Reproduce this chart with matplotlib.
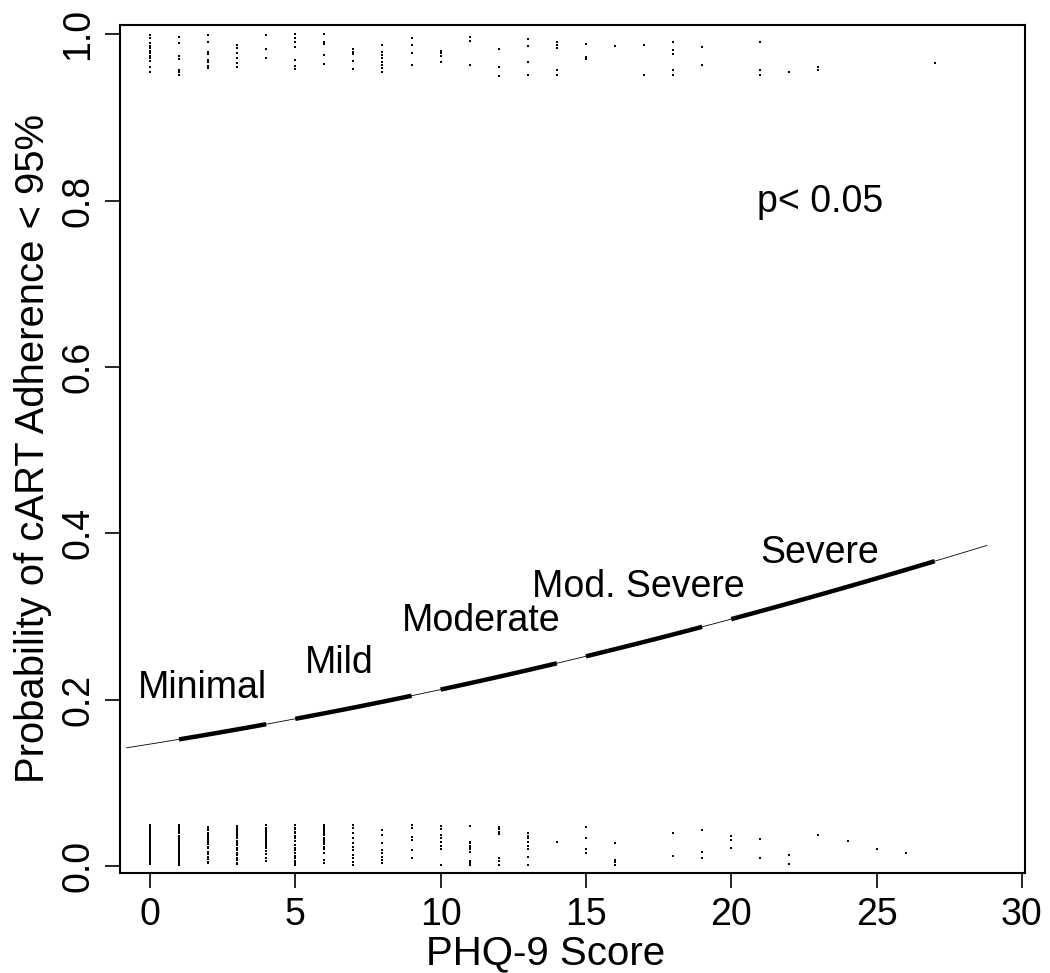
import matplotlib
matplotlib.use("Agg")
import matplotlib.pyplot as plt
import numpy as np

plt.rcParams['font.family'] = ['Liberation Sans', 'DejaVu Sans']

# Observed outcomes (jittered) by PHQ-9 score: adherence < 95% (top) and >= 95% (bottom)
top_scores = [0, 1, 2, 3, 4, 5, 6, 7, 8, 9, 10, 11, 12, 13, 14, 15, 16, 17, 18, 19, 21, 22, 23, 27]
top_vals = [
    [0.999, 0.995, 0.989, 0.986, 0.983, 0.980, 0.977, 0.974, 0.971, 0.968, 0.960, 0.954],
    [0.996, 0.989, 0.974, 0.970, 0.957, 0.954, 0.951],
    [0.999, 0.990, 0.978, 0.976, 0.969, 0.966, 0.962, 0.959],
    [0.987, 0.983, 0.977, 0.971, 0.965, 0.960],
    [0.999, 0.982, 0.971],
    [1.000, 0.995, 0.990, 0.984, 0.969, 0.962, 0.958],
    [1.000, 0.990, 0.988, 0.975, 0.964],
    [0.982, 0.978, 0.976, 0.968, 0.958],
    [0.987, 0.978, 0.975, 0.971, 0.966, 0.963, 0.959, 0.954],
    [0.995, 0.987, 0.977, 0.963],
    [0.980, 0.977, 0.974, 0.966],
    [0.996, 0.992, 0.963],
    [0.982, 0.961, 0.950],
    [0.994, 0.986, 0.967, 0.951],
    [0.990, 0.987, 0.983, 0.957, 0.951],
    [0.988, 0.973, 0.970],
    [0.986],
    [0.987, 0.951],
    [0.990, 0.981, 0.976, 0.957, 0.951],
    [0.984, 0.963],
    [0.990, 0.957, 0.951],
    [0.954],
    [0.960, 0.957],
    [0.965],
]

bottom_scores = [0, 1, 2, 3, 4, 5, 6, 7, 8, 9, 10, 11, 12, 13, 14, 15, 16, 18, 19, 20, 21, 22, 23, 24, 25, 26]
bottom_vals = [
    [0.049, 0.047, 0.046, 0.044, 0.042, 0.041, 0.039, 0.037, 0.036, 0.034, 0.032, 0.030, 0.029, 0.027,
     0.025, 0.023, 0.022, 0.020, 0.018, 0.016, 0.015, 0.013, 0.011, 0.009, 0.008, 0.006, 0.004, 0.002],
    [0.049, 0.047, 0.045, 0.043, 0.041, 0.039, 0.036, 0.034, 0.032, 0.030, 0.027, 0.025, 0.023, 0.021,
     0.019, 0.017, 0.014, 0.012, 0.010, 0.007, 0.005, 0.003, 0.001],
    [0.047, 0.045, 0.043, 0.040, 0.038, 0.036, 0.033, 0.031, 0.029, 0.026, 0.023, 0.021, 0.017, 0.014,
     0.011, 0.008, 0.005, 0.003],
    [0.048, 0.046, 0.043, 0.041, 0.038, 0.036, 0.033, 0.030, 0.028, 0.025, 0.022, 0.019, 0.016, 0.013,
     0.010, 0.007, 0.004, 0.002],
    [0.049, 0.046, 0.043, 0.041, 0.038, 0.036, 0.034, 0.031, 0.029, 0.026, 0.024, 0.021, 0.018, 0.014,
     0.010, 0.006],
    [0.049, 0.046, 0.044, 0.041, 0.039, 0.036, 0.033, 0.030, 0.025, 0.022, 0.019, 0.015, 0.012, 0.009,
     0.006, 0.003, 0.001],
    [0.049, 0.047, 0.044, 0.042, 0.039, 0.037, 0.034, 0.031, 0.029, 0.026, 0.023, 0.020, 0.016, 0.007, 0.004],
    [0.049, 0.045, 0.039, 0.033, 0.027, 0.023, 0.019, 0.013, 0.009, 0.005, 0.001],
    [0.043, 0.037, 0.027, 0.019, 0.015, 0.011, 0.007, 0.004],
    [0.049, 0.045, 0.035, 0.031, 0.019, 0.010],
    [0.048, 0.044, 0.037, 0.033, 0.029, 0.024, 0.020, 0.001],
    [0.048, 0.029, 0.027, 0.024, 0.022, 0.020, 0.017, 0.006, 0.003, 0.001],
    [0.047, 0.044, 0.041, 0.038, 0.009, 0.006, 0.001],
    [0.039, 0.036, 0.033, 0.029, 0.024, 0.020, 0.011, 0.001],
    [0.029],
    [0.047, 0.033, 0.020, 0.015],
    [0.027, 0.007, 0.005, 0.001],
    [0.039, 0.012],
    [0.043, 0.017, 0.009],
    [0.036, 0.031, 0.021],
    [0.032, 0.009],
    [0.013, 0.002],
    [0.037],
    [0.030],
    [0.020],
    [0.015],
]

# Fitted logistic model (logit p = b0 + b1 * score)
b0 = -1.763
b1 = 0.045
curve_range = (-0.8, 28.8)

# Severity bands (thick segments) and labels
band_starts = [1, 5, 10, 15, 20]
band_ends = [4, 9, 14, 19, 27]
band_labels = ["Minimal", "Mild", "Moderate", "Mod. Severe", "Severe"]
label_x = [1.8, 6.5, 11.4, 16.8, 23.05]
label_y = [0.202, 0.232, 0.2825, 0.323, 0.364]

xticks = [0, 5, 10, 15, 20, 25, 30]
yticks = [0.0, 0.2, 0.4, 0.6, 0.8, 1.0]


def model(x):
    return 1.0 / (1.0 + np.exp(-(b0 + b1 * x)))


fig = plt.figure(figsize=(10.5, 9.73), dpi=100)
ax = fig.add_axes([0.1143, 0.1028, 0.8617, 0.8715])

fs = 27

for s, vals in zip(top_scores, top_vals):
    ax.plot([s] * len(vals), vals, linestyle='none', marker='s', ms=2.0, color='black', mew=0)
for s, vals in zip(bottom_scores, bottom_vals):
    ax.plot([s] * len(vals), vals, linestyle='none', marker='s', ms=2.0, color='black', mew=0)

xs = np.linspace(curve_range[0], curve_range[1], 300)
ax.plot(xs, model(xs), color='black', lw=0.6)
for a, b in zip(band_starts, band_ends):
    xb = np.linspace(a, b, 100)
    ax.plot(xb, model(xb), color='black', lw=3.2, solid_capstyle='butt')

for lab, lx, ly in zip(band_labels, label_x, label_y):
    ax.text(lx, ly, lab, ha='center', va='baseline', fontsize=fs)

ax.text(23.05, 0.786, "p< 0.05", ha='center', va='baseline', fontsize=fs)

ax.set_xlim(-1.03, 30.1)
ax.set_ylim(-0.0085, 1.011)
ax.set_xticks(xticks)
ax.set_xticklabels([str(t) for t in xticks])
ax.set_yticks(yticks)
ax.set_yticklabels([f"{t:.1f}" for t in yticks], rotation=90, va='center')
ax.tick_params(direction='out', length=11, width=1.2, labelsize=fs, pad=6)
for sp in ax.spines.values():
    sp.set_linewidth(1.5)

ax.set_xlabel("PHQ-9 Score", fontsize=29)
ax.xaxis.set_label_coords(0.47, -0.072)
ax.set_ylabel("Probability of cART Adherence < 95%", fontsize=28.8, labelpad=6)

fig.savefig("out.png", dpi=100)
